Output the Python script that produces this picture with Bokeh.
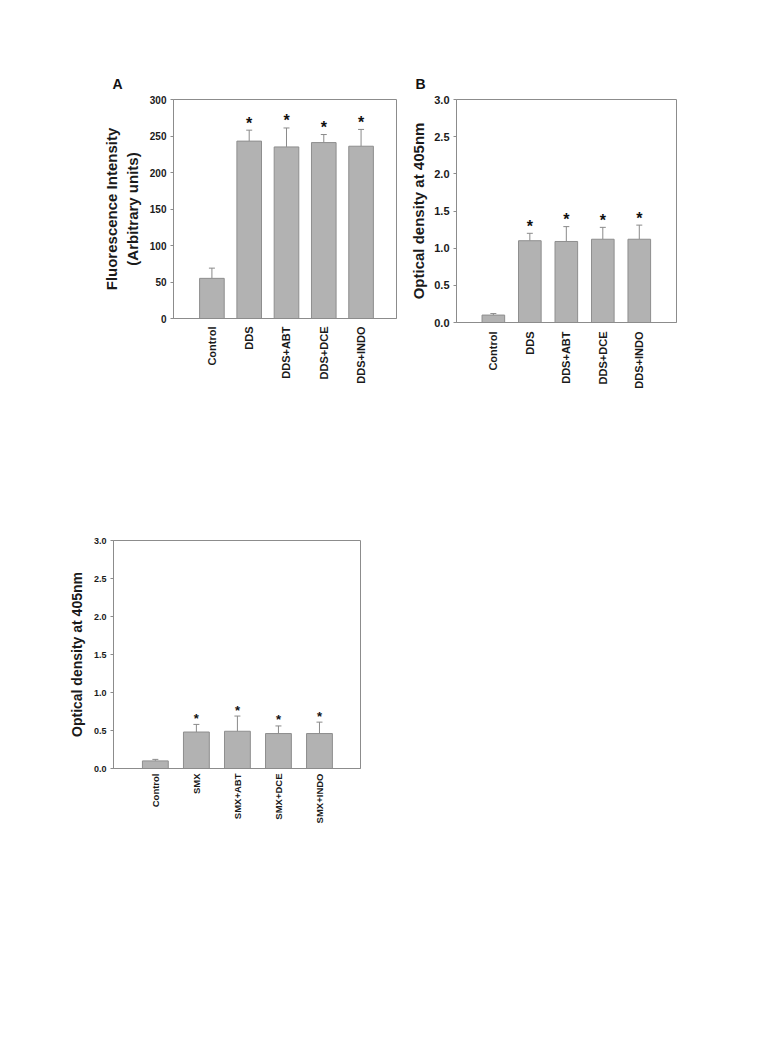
import math
from bokeh.plotting import figure
from bokeh.layouts import column, row
from bokeh.models import (ColumnDataSource, Range1d, FixedTicker, Whisker, TeeHead, Title)
from bokeh.core.properties import value
from bokeh.embed import file_html
from bokeh.resources import INLINE

# ---------------- data ----------------
groups_dds = ["Control", "DDS", "DDS+ABT", "DDS+DCE", "DDS+INDO"]
fluor_mean = [55, 243, 235, 241, 236]
fluor_err = [14, 15, 26, 11, 23]

od_dds_mean = [0.10, 1.10, 1.09, 1.12, 1.12]
od_dds_err = [0.02, 0.10, 0.20, 0.16, 0.19]

groups_smx = ["Control", "SMX", "SMX+ABT", "SMX+DCE", "SMX+INDO"]
od_smx_mean = [0.10, 0.48, 0.49, 0.46, 0.46]
od_smx_err = [0.02, 0.10, 0.20, 0.10, 0.15]

significant = [False, True, True, True, True]

fluor_ticks = [0, 50, 100, 150, 200, 250, 300]
od_ticks = [0.0, 0.5, 1.0, 1.5, 2.0, 2.5, 3.0]
od_tick_labels = ["0.0", "0.5", "1.0", "1.5", "2.0", "2.5", "3.0"]

FONT = "Liberation Sans"
BAR_FILL = "#b2b2b2"
BAR_LINE = "#8e8e8e"
AX = "#8c8c8c"
TXT = "#1a1a1a"


def make_panel(cats, means, errs, yticks, ytick_labels, ymax, ylabel, xr,
               frame_w, frame_h, borders, tick_fs, cat_fs, lab_fs, star_fs,
               star_off, bar_w, lab_standoff, cat_standoff,
               panel_letter=None, letter_offset=0):
    xs = list(range(1, len(cats) + 1))
    hi = [m + e for m, e in zip(means, errs)]
    src = ColumnDataSource(dict(x=xs, top=means, hi=hi))
    p = figure(frame_width=frame_w, frame_height=frame_h,
               x_range=Range1d(*xr), y_range=Range1d(0, ymax),
               output_backend="svg", toolbar_location=None,
               min_border_left=borders[0], min_border_right=borders[1],
               min_border_top=borders[2], min_border_bottom=borders[3])
    p.background_fill_color = "white"
    p.border_fill_color = "white"
    p.grid.visible = False
    p.outline_line_color = AX
    p.outline_line_width = 1

    if panel_letter:
        p.add_layout(Title(text=" ", text_font_size="1px", standoff=0), "above")
        p.add_layout(Title(text=panel_letter, align="left", offset=letter_offset,
                           text_font=FONT, text_font_style="bold",
                           text_font_size="14px", text_color="#111111"), "above")

    p.vbar(x="x", top="top", width=bar_w, source=src,
           fill_color=BAR_FILL, line_color=BAR_LINE, line_width=1)
    w = Whisker(base="x", upper="hi", lower="top", source=src, dimension="height",
                line_color="#8a8a8a", line_width=1,
                upper_head=TeeHead(size=6, line_color="#8a8a8a", line_width=1),
                lower_head=None)
    p.add_layout(w)

    sx = [x for x, s in zip(xs, significant) if s]
    sy = [h for h, s in zip(hi, significant) if s]
    p.text(x=sx, y=sy, text=["*"] * len(sx), text_align="center",
           text_baseline="alphabetic", y_offset=star_off,
           text_font=value(FONT), text_font_style="bold",
           text_font_size=star_fs, text_color="#111111")

    # x axis
    xa = p.xaxis[0]
    xa.ticker = FixedTicker(ticks=xs)
    xa.major_label_overrides = {x: c for x, c in zip(xs, cats)}
    xa.major_label_orientation = math.pi / 2
    xa.major_tick_out = 0
    xa.major_tick_in = 0
    xa.minor_tick_out = 0
    xa.minor_tick_in = 0
    xa.axis_line_color = AX
    xa.major_label_standoff = cat_standoff
    xa.major_label_text_font = FONT
    xa.major_label_text_font_style = "bold"
    xa.major_label_text_font_size = cat_fs
    xa.major_label_text_color = TXT

    # y axis
    ya = p.yaxis[0]
    ya.ticker = FixedTicker(ticks=yticks)
    ya.major_label_overrides = {t: l for t, l in zip(yticks, ytick_labels)}
    ya.major_tick_out = 3
    ya.major_tick_in = 0
    ya.minor_tick_out = 0
    ya.minor_tick_in = 0
    ya.major_tick_line_color = AX
    ya.axis_line_color = AX
    ya.major_label_standoff = 4
    ya.major_label_text_font = FONT
    ya.major_label_text_font_style = "bold"
    ya.major_label_text_font_size = tick_fs
    ya.major_label_text_color = TXT
    ya.axis_label = ylabel
    ya.axis_label_text_font = FONT
    ya.axis_label_text_font_style = "bold"
    ya.axis_label_text_font_size = lab_fs
    ya.axis_label_text_color = TXT
    ya.axis_label_standoff = lab_standoff
    return p


pA = make_panel(groups_dds, fluor_mean, fluor_err, fluor_ticks,
                [str(t) for t in fluor_ticks], 300,
                "Fluorescence Intensity\n(Arbitrary units)", (-0.03, 5.95),
                223, 219, (173, 4, 99, 80), "10px", "11px", "15px", "16px", -7,
                0.66, 6, 8, "A", -61)

pB = make_panel(groups_dds, od_dds_mean, od_dds_err, od_ticks, od_tick_labels, 3.0,
                "Optical density at 405nm", (-0.01, 6.02),
                220, 223, (56, 10, 99, 76), "11px", "11px", "15px", "16px", -7,
                0.62, 4, 9, "B", -41)

pC = make_panel(groups_smx, od_smx_mean, od_smx_err, od_ticks, od_tick_labels, 3.0,
                "Optical density at 405nm", (-0.02, 6.0),
                247, 228, (113, 10, 142, 70), "9px", "9.5px", "14px", "13px", -6,
                0.63, 6, 5)

layout = column(row(pA, pB), pC)

open("out.html", "w").write(file_html(layout, INLINE))
